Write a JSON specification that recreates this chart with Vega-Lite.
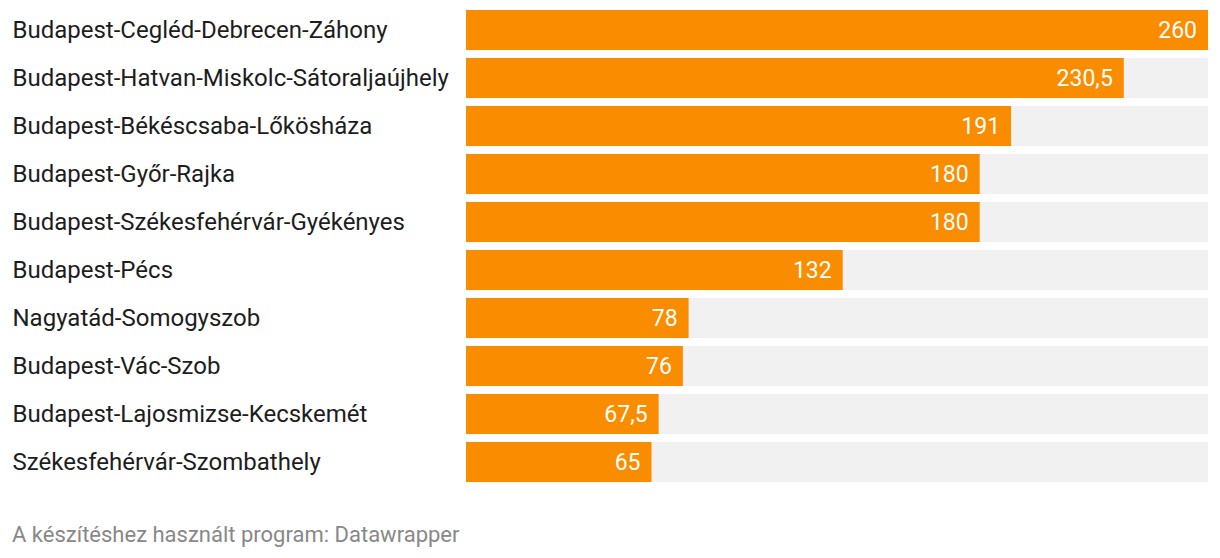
{
  "$schema": "https://vega.github.io/schema/vega-lite/v6.json",
  "autosize": {"type": "none"},
  "padding": {"left": 466, "top": 6, "right": 12, "bottom": 72},
  "width": 742,
  "height": 480,
  "background": "white",
  "data": {"values": [
    {"route": "Budapest-Cegléd-Debrecen-Záhony", "value": 260},
    {"route": "Budapest-Hatvan-Miskolc-Sátoraljaújhely", "value": 230.5},
    {"route": "Budapest-Békéscsaba-Lőkösháza", "value": 191},
    {"route": "Budapest-Győr-Rajka", "value": 180},
    {"route": "Budapest-Székesfehérvár-Gyékényes", "value": 180},
    {"route": "Budapest-Pécs", "value": 132},
    {"route": "Nagyatád-Somogyszob", "value": 78},
    {"route": "Budapest-Vác-Szob", "value": 76},
    {"route": "Budapest-Lajosmizse-Kecskemét", "value": 67.5},
    {"route": "Székesfehérvár-Szombathely", "value": 65}
  ]},
  "transform": [{"joinaggregate": [{"op": "max", "field": "value", "as": "maxValue"}]}],
  "title": {
    "text": "A készítéshez használt program: Datawrapper",
    "orient": "bottom",
    "anchor": "start",
    "frame": "group",
    "dx": -454,
    "offset": 39,
    "font": "Roboto",
    "fontSize": 22,
    "fontWeight": "normal",
    "color": "#888888"
  },
  "encoding": {
    "y": {
      "field": "route",
      "type": "nominal",
      "sort": null,
      "scale": {"paddingInner": 0.1667, "paddingOuter": 0.0833},
      "axis": {
        "title": null,
        "domain": false,
        "ticks": false,
        "labelAlign": "left",
        "labelPadding": 454,
        "labelOffset": 1,
        "labelFont": "Roboto",
        "labelFontSize": 24,
        "labelColor": "#1d1d1d",
        "labelLimit": 460
      }
    }
  },
  "layer": [
    {
      "mark": {"type": "bar", "color": "#f1f1f1"},
      "encoding": {
        "x": {"field": "maxValue", "type": "quantitative", "scale": {"domain": [0, 260], "nice": false}, "axis": null}
      }
    },
    {
      "mark": {"type": "bar", "color": "#fa8c00"},
      "encoding": {
        "x": {"field": "value", "type": "quantitative", "scale": {"domain": [0, 260], "nice": false}, "axis": null}
      }
    },
    {
      "mark": {"type": "text", "align": "right", "baseline": "middle", "dx": -11, "dy": 1, "color": "white", "font": "Roboto", "fontSize": 23},
      "encoding": {
        "x": {"field": "value", "type": "quantitative", "scale": {"domain": [0, 260], "nice": false}, "axis": null},
        "text": {"field": "value", "type": "quantitative", "format": "~f"}
      }
    }
  ],
  "config": {
    "view": {"stroke": null},
    "locale": {"number": {"decimal": ",", "thousands": " ", "grouping": [3], "currency": ["", " Ft"]}}
  }
}
